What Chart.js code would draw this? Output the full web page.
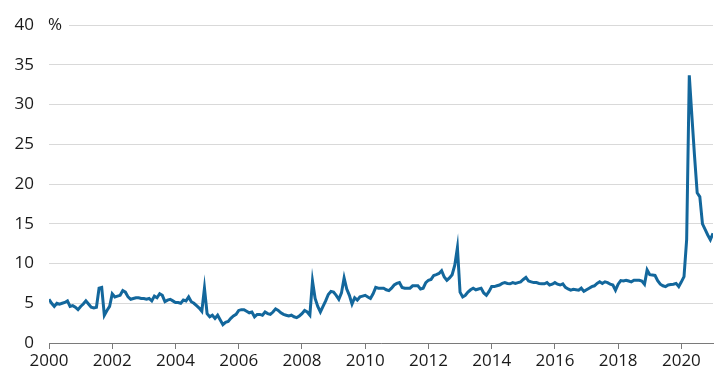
<!DOCTYPE html>
<html>
<head>
<meta charset="utf-8">
<script src="https://cdn.jsdelivr.net/npm/chart.js@4/dist/chart.umd.min.js"></script>
<style>
  html, body { margin: 0; padding: 0; background: #ffffff; }
  #wrap { width: 723px; height: 379px; }
</style>
</head>
<body>
<div id="wrap"><canvas id="c" width="723" height="379"></canvas></div>
<script>
// Monthly values (%), one array per year, Jan..Dec
const rate2000 = [5.5, 5.0, 4.6, 5.0, 4.9, 5.0, 5.1, 5.3, 4.6, 4.7, 4.5, 4.2];
const rate2001 = [4.6, 4.9, 5.3, 4.9, 4.5, 4.4, 4.5, 6.9, 7.0, 3.5, 4.1, 4.6];
const rate2002 = [6.2, 5.8, 5.9, 6.0, 6.6, 6.4, 5.8, 5.5, 5.6, 5.7, 5.7, 5.6];
const rate2003 = [5.6, 5.5, 5.6, 5.3, 5.9, 5.7, 6.2, 6.0, 5.2, 5.4, 5.5, 5.3];
const rate2004 = [5.1, 5.1, 5.0, 5.4, 5.3, 5.8, 5.2, 5.0, 4.7, 4.4, 4.0, 6.9];
const rate2005 = [3.7, 3.3, 3.5, 3.1, 3.5, 2.9, 2.3, 2.6, 2.7, 3.1, 3.4, 3.6];
const rate2006 = [4.1, 4.2, 4.2, 4.0, 3.8, 3.9, 3.3, 3.6, 3.6, 3.5, 3.9, 3.7];
const rate2007 = [3.6, 3.9, 4.3, 4.1, 3.8, 3.6, 3.5, 3.4, 3.5, 3.3, 3.2, 3.4];
const rate2008 = [3.7, 4.1, 3.9, 3.5, 7.8, 5.6, 4.6, 3.9, 4.6, 5.3, 6.1, 6.5];
const rate2009 = [6.4, 6.0, 5.5, 6.3, 8.2, 6.8, 6.0, 4.9, 5.7, 5.4, 5.8, 5.9];
const rate2010 = [6.0, 5.8, 5.6, 6.2, 7.0, 6.9, 6.9, 6.9, 6.7, 6.6, 6.9, 7.3];
const rate2011 = [7.5, 7.6, 7.0, 6.9, 6.9, 6.9, 7.2, 7.2, 7.2, 6.8, 6.9, 7.6];
const rate2012 = [7.9, 8.0, 8.5, 8.6, 8.75, 9.1, 8.3, 7.9, 8.2, 8.6, 9.8, 12.0];
const rate2013 = [6.4, 5.8, 6.0, 6.4, 6.7, 6.9, 6.7, 6.8, 6.9, 6.3, 6.0, 6.5];
const rate2014 = [7.1, 7.1, 7.2, 7.3, 7.5, 7.6, 7.5, 7.45, 7.6, 7.5, 7.6, 7.7];
const rate2015 = [8.0, 8.25, 7.8, 7.7, 7.6, 7.6, 7.5, 7.45, 7.45, 7.6, 7.3, 7.4];
const rate2016 = [7.6, 7.4, 7.3, 7.45, 7.0, 6.8, 6.65, 6.75, 6.7, 6.65, 6.9, 6.5];
const rate2017 = [6.7, 6.9, 7.1, 7.2, 7.5, 7.7, 7.5, 7.7, 7.6, 7.4, 7.3, 6.65];
const rate2018 = [7.4, 7.85, 7.8, 7.9, 7.8, 7.7, 7.9, 7.9, 7.9, 7.8, 7.4, 9.2];
const rate2019 = [8.6, 8.55, 8.5, 7.85, 7.4, 7.2, 7.1, 7.3, 7.35, 7.4, 7.5, 7.1];
const rate2020 = [7.7, 8.35, 13.0, 33.7, 28.5, 23.5, 18.9, 18.4, 15.0, 14.3, 13.6, 13.0];
const rate2021 = [13.8];

const firstYear = 2000;
const yearlyRates = [rate2000, rate2001, rate2002, rate2003, rate2004, rate2005, rate2006,
  rate2007, rate2008, rate2009, rate2010, rate2011, rate2012, rate2013, rate2014, rate2015,
  rate2016, rate2017, rate2018, rate2019, rate2020, rate2021];

const xTickLabels = [2000, 2002, 2004, 2006, 2008, 2010, 2012, 2014, 2016, 2018, 2020];
const yTickValues = [0, 5, 10, 15, 20, 25, 30, 35, 40];
const unitLabel = '%';

const points = [];
yearlyRates.forEach((arr, yi) => {
  arr.forEach((v, mi) => points.push({ x: firstYear + yi + mi / 12, y: v }));
});

const FONT = "'Open Sans', 'DejaVu Sans', sans-serif";

const unitPlugin = {
  id: 'unitLabel',
  afterDraw(chart) {
    const ctx = chart.ctx;
    const y = chart.scales.y.getPixelForValue(yTickValues[yTickValues.length - 1]);
    const x0 = chart.chartArea.left;
    ctx.save();
    ctx.fillStyle = '#ffffff';
    ctx.fillRect(x0 - 1, y - 3, 21, 6);
    ctx.fillStyle = '#1a1a1a';
    ctx.font = "17px " + FONT;
    ctx.textAlign = 'left';
    ctx.textBaseline = 'middle';
    ctx.fillText(unitLabel, x0 - 1, y);
    ctx.restore();
  }
};

new Chart(document.getElementById('c'), {
  type: 'line',
  data: {
    datasets: [{
      data: points,
      borderColor: '#13679c',
      borderWidth: 3,
      pointRadius: 0,
      tension: 0,
      fill: false
    }]
  },
  options: {
    responsive: false,
    animation: false,
    devicePixelRatio: 1,
    layout: { padding: { top: 25, right: 10, left: 0, bottom: 0 } },
    plugins: { legend: { display: false }, tooltip: { enabled: false } },
    scales: {
      x: {
        type: 'linear',
        min: 2000,
        max: 2021,
        afterBuildTicks: (s) => { s.ticks = xTickLabels.map(v => ({ value: v })); },
        afterFit: (s) => { s.height = 36; },
        ticks: {
          includeBounds: false,
          maxRotation: 0,
          autoSkip: false,
          padding: 2,
          color: '#1a1a1a',
          font: { family: FONT, size: 17 },
          callback: (v) => String(v)
        },
        grid: { drawOnChartArea: false, drawTicks: true, tickLength: 6, color: '#7a7a7a' },
        border: { display: true, color: '#7a7a7a', width: 1 }
      },
      y: {
        min: 0,
        max: 40,
        afterBuildTicks: (s) => { s.ticks = yTickValues.map(v => ({ value: v })); },
        afterFit: (s) => { s.width = 49; },
        ticks: {
          padding: 15,
          color: '#1a1a1a',
          font: { family: FONT, size: 17 },
          callback: (v) => String(v)
        },
        grid: { color: '#d9d9d9', drawTicks: false, lineWidth: 1 },
        border: { display: false }
      }
    }
  },
  plugins: [unitPlugin]
});
</script>
</body>
</html>
